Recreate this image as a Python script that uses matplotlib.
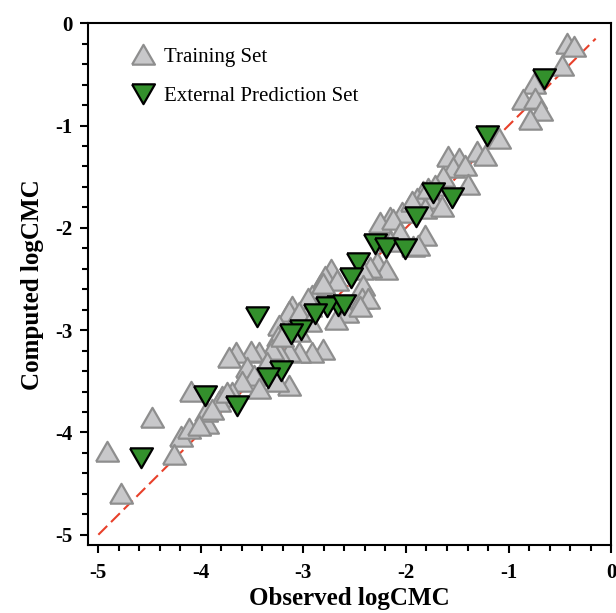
import matplotlib
matplotlib.use("Agg")
import matplotlib.pyplot as plt
from matplotlib.ticker import MultipleLocator

plt.rcParams['font.family'] = ['Liberation Serif', 'DejaVu Serif']
plt.rcParams['axes.unicode_minus'] = False

# training set (observed, computed)
train_obs = [-0.43, -0.36, -0.48, -0.75, -0.86, -0.74, -0.68, -0.79, -1.09, -1.31,
             -1.23, -1.59, -1.48, -1.54, -1.42, -1.64, -1.40, -1.72, -1.83, -1.75,
             -1.89, -1.96, -2.04, -2.16, -2.25, -1.81, -1.65, -1.79, -1.94, -1.81,
             -2.13, -2.06, -2.16, -1.93, -2.28, -2.19, -2.35, -2.43, -2.73, -2.79,
             -2.67, -2.84, -2.42, -2.92, -2.43, -3.11, -2.94, -2.81, -2.96, -3.14,
             -3.04, -2.94, -3.24, -3.25, -2.81, -2.92, -3.04, -3.14, -3.24, -3.31,
             -3.43, -3.51, -3.66, -3.36, -3.55, -3.48, -3.60, -3.14, -3.26, -3.43,
             -3.70, -3.79, -4.10, -4.48, -4.92, -4.78, -4.19, -4.26, -4.12, -3.94,
             -3.95, -3.82, -3.75, -3.73, -3.89, -4.02, -2.58, -2.68, -2.37, -2.45,
             -1.88, -3.04, -3.21]
train_calc = [-0.20, -0.23, -0.42, -0.59, -0.75, -0.74, -0.86, -0.95, -1.13, -1.26,
              -1.30, -1.31, -1.33, -1.41, -1.40, -1.50, -1.58, -1.59, -1.65, -1.72,
              -1.72, -1.79, -1.85, -1.90, -1.95, -1.82, -1.80, -1.62, -1.75, -2.08,
              -1.92, -2.05, -2.14, -2.19, -2.34, -2.41, -2.39, -2.41, -2.41, -2.48,
              -2.52, -2.57, -2.57, -2.67, -2.70, -2.77, -2.77, -2.55, -2.70, -2.82,
              -2.83, -2.92, -2.96, -3.07, -3.19, -3.22, -3.22, -3.21, -3.22, -3.19,
              -3.22, -3.21, -3.22, -3.32, -3.37, -3.45, -3.51, -3.55, -3.51, -3.58,
              -3.61, -3.65, -3.60, -3.86, -4.19, -4.60, -4.04, -4.22, -3.97, -3.92,
              -3.80, -3.70, -3.61, -3.27, -3.78, -3.94, -2.83, -2.90, -2.70, -2.77,
              -2.18, -3.02, -3.07]

# external prediction set (observed, computed)
pred_obs = [-0.65, -1.21, -1.74, -1.55, -1.90, -2.30, -2.19, -2.01, -2.47, -2.54,
            -3.45, -2.66, -2.77, -2.60, -2.89, -3.02, -3.12, -3.22, -3.35, -3.96,
            -3.65, -4.58]
pred_calc = [-0.53, -1.09, -1.65, -1.70, -1.88, -2.15, -2.19, -2.20, -2.33, -2.48,
             -2.86, -2.75, -2.76, -2.74, -2.83, -2.99, -3.03, -3.39, -3.46, -3.63,
             -3.73, -4.24]

line_x = [-5.0, -0.15]

tri_up = [(-1, -0.8), (1, -0.8), (0, 0.93), (-1, -0.8)]
tri_down = [(-1, 0.8), (1, 0.8), (0, -0.93), (-1, 0.8)]

fig = plt.figure(figsize=(6.16, 6.13), dpi=100)
ax = fig.add_axes([0.143, 0.111, 0.849, 0.851])

ax.plot(line_x, line_x, color='#e8402a', lw=1.5, dashes=(6, 2.6), zorder=1)
ax.plot(train_obs, train_calc, linestyle='none', marker=tri_up, markersize=16.5,
        markerfacecolor='#c8c8ca', markeredgecolor='#8e8e8e', markeredgewidth=1.6,
        label='Training Set', zorder=2)
ax.plot(pred_obs, pred_calc, linestyle='none', marker=tri_down, markersize=16.5,
        markerfacecolor='#33902c', markeredgecolor='black', markeredgewidth=1.6,
        label='External Prediction Set', zorder=3)

ax.set_xlim(-5.1, 0)
ax.set_ylim(-5.1, 0)
ax.xaxis.set_major_locator(MultipleLocator(1))
ax.xaxis.set_minor_locator(MultipleLocator(0.2))
ax.yaxis.set_major_locator(MultipleLocator(1))
ax.yaxis.set_minor_locator(MultipleLocator(0.2))
ax.tick_params(which='major', direction='out', length=6, width=1.5, labelsize=15)
ax.tick_params(axis='x', which='major', pad=7)
ax.tick_params(axis='y', which='major', pad=5)
ax.tick_params(which='minor', direction='out', length=4, width=1.5)
for lab in ax.get_xticklabels() + ax.get_yticklabels():
    lab.set_fontweight('bold')
for sp in ax.spines.values():
    sp.set_linewidth(1.5)

ax.set_xlabel('Observed logCMC', fontsize=18, fontweight='bold', labelpad=3)
ax.set_ylabel('Computed logCMC', fontsize=18, fontweight='bold', labelpad=8)

leg = ax.legend(loc='upper left', bbox_to_anchor=(0.065, 0.969), borderaxespad=0,
                frameon=False, fontsize=15, handletextpad=0.4, labelspacing=0.9,
                handlelength=1.2, markerscale=1.0)

fig.savefig('out.png', dpi=100)
